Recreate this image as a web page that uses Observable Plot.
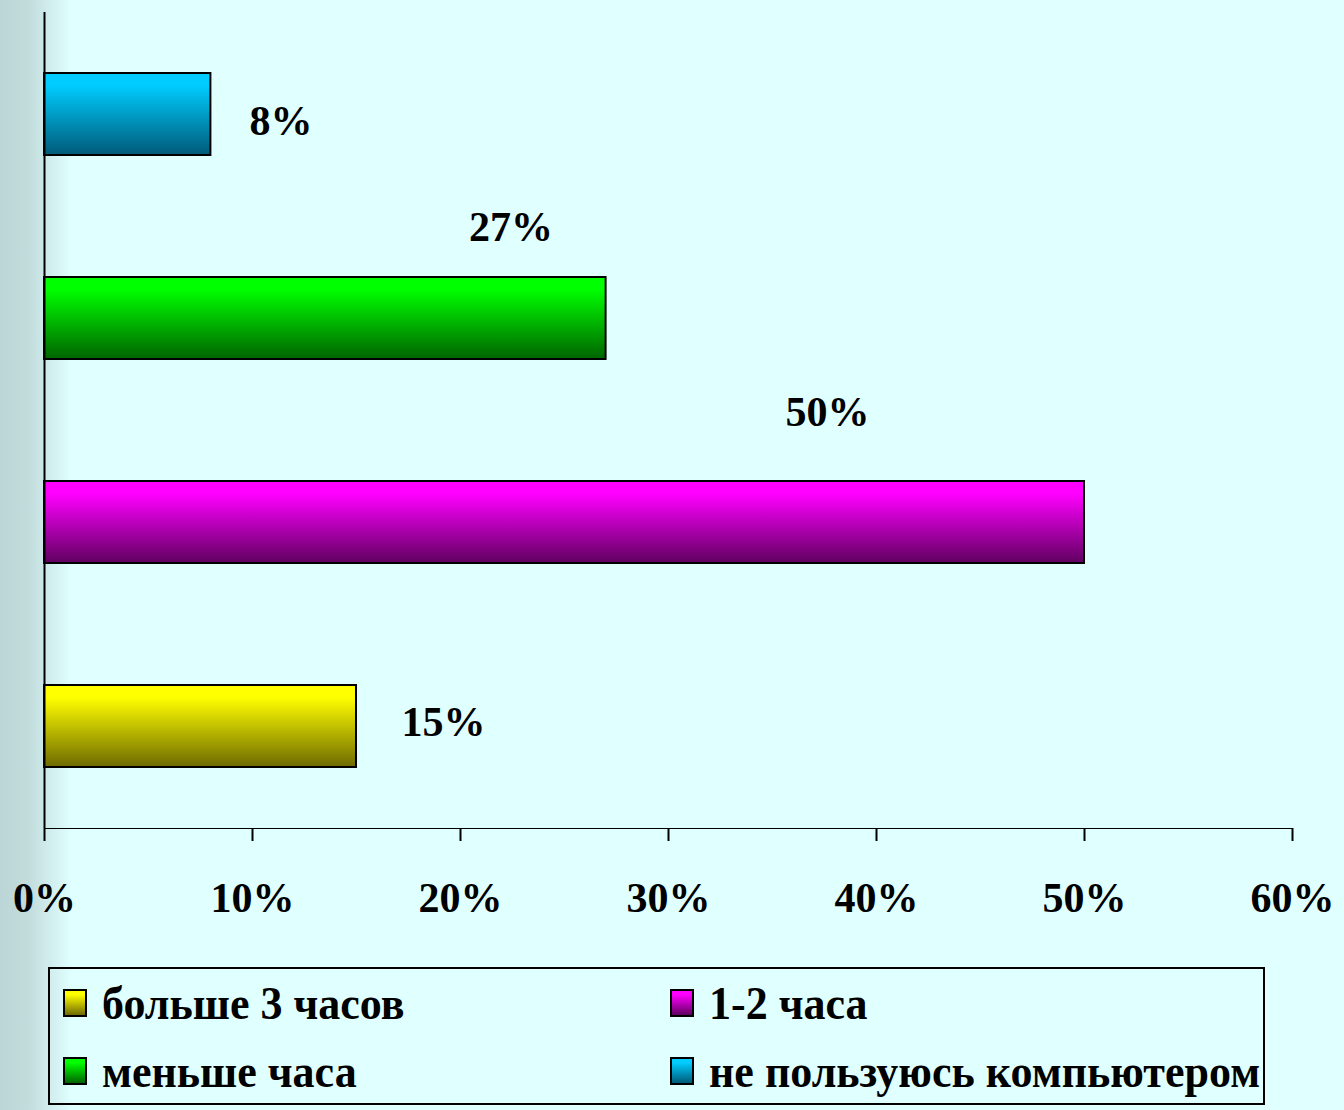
<!DOCTYPE html>
<html>
<head>
<meta charset="utf-8">
<script src="https://cdn.jsdelivr.net/npm/d3@7"></script>
<script src="https://cdn.jsdelivr.net/npm/@observablehq/plot@0.6"></script>
<style>
  html, body { margin: 0; padding: 0; }
  body {
    width: 1344px; height: 1110px; overflow: hidden;
    background: linear-gradient(to right, #bcd5d6 0px, #c3dddd 30px, #e0ffff 72px, #e0ffff 100%);
    font-family: "Liberation Serif", "Times New Roman", serif;
  }
  #chart svg { display: block; }
  #chart svg g[aria-label^="x-axis"] * { stroke-width: 2px; }
  #legend {
    margin-left: 48px; margin-top: 7px;
    width: 1213px; height: 134px;
    border: 2px solid #000;
    box-sizing: content-box;
    display: grid;
    grid-template-columns: 607px auto;
    grid-template-rows: 68px 68px;
  }
  .item { display: flex; align-items: center; padding-left: 13px; font-weight: bold; font-size: 44px; color: #000; white-space: nowrap; }
  .item span { display: inline-block; transform: scaleY(1.05); }
  .sw { width: 20px; height: 24px; border: 2px solid #000; margin-right: 15px; flex: none; }
</style>
</head>
<body>
<div id="chart"></div>
<div id="legend"></div>
<script>
// Data
const categories = ["не пользуюсь компьютером", "меньше часа", "1-2 часа", "больше 3 часов"];
const values = [8, 27, 50, 15];
const topColors = ["#00ccff", "#00ff00", "#ff00ff", "#ffff00"];
const bottomColors = ["#005a78", "#006400", "#600060", "#6e6a00"];
const xTicks = [0, 10, 20, 30, 40, 50, 60];
const legendOrder = ["больше 3 часов", "1-2 часа", "меньше часа", "не пользуюсь компьютером"];

const data = categories.map((c, i) => ({category: c, value: values[i]}));

// label offsets (styling)
const labelOffsets = {
  "не пользуюсь компьютером": [70, 7],
  "меньше часа": [-95, -91],
  "1-2 часа": [-257, -110],
  "больше 3 часов": [87, -4]
};

const W = 1344, H = 960;
const FONT = "Liberation Serif, Times New Roman, serif";
const chart = Plot.plot({
  width: W,
  height: H,
  marginLeft: 44,
  marginRight: 52,
  marginTop: 12,
  marginBottom: H - 828,
  style: {background: "transparent", fontFamily: FONT, fontSize: "42px", fontWeight: "bold", color: "#000"},
  x: {domain: [0, 60], ticks: xTicks, tickFormat: d => d + "%", tickSize: 13, tickPadding: 41, label: null, line: true},
  y: {domain: categories, paddingInner: 0.6, paddingOuter: 0.3, axis: null},
  color: {type: "ordinal", domain: categories, range: categories.map((c, i) => `url(#grad${i})`)},
  marks: [
    Plot.barX(data, {x: "value", y: "category", fill: "category", stroke: "#000", strokeWidth: 2}),
    Plot.ruleX([0], {stroke: "#000", strokeWidth: 2}),
    ...categories.map(c => Plot.text(data.filter(d => d.category === c), {
      x: "value", y: "category", text: d => d.value + "%",
      dx: labelOffsets[c][0], dy: labelOffsets[c][1],
      fontSize: 42, fontWeight: "bold", fontFamily: FONT, fill: "#000"
    }))
  ]
});

// gradient defs
const defs = d3.select(chart).insert("defs", ":first-child");
categories.forEach((c, i) => {
  const g = defs.append("linearGradient").attr("id", `grad${i}`).attr("x1", 0).attr("y1", 0).attr("x2", 0).attr("y2", 1);
  g.append("stop").attr("offset", "0%").attr("stop-color", topColors[i]);
  g.append("stop").attr("offset", "15%").attr("stop-color", topColors[i]);
  g.append("stop").attr("offset", "100%").attr("stop-color", bottomColors[i]);
});
document.getElementById("chart").appendChild(chart);

// legend
const legend = d3.select("#legend");
legendOrder.forEach(name => {
  const i = categories.indexOf(name);
  const item = legend.append("div").attr("class", "item");
  item.append("div").attr("class", "sw")
    .style("background", `linear-gradient(to bottom, ${topColors[i]} 0%, ${topColors[i]} 15%, ${bottomColors[i]} 100%)`);
  item.append("span").text(name);
});
</script>
</body>
</html>
